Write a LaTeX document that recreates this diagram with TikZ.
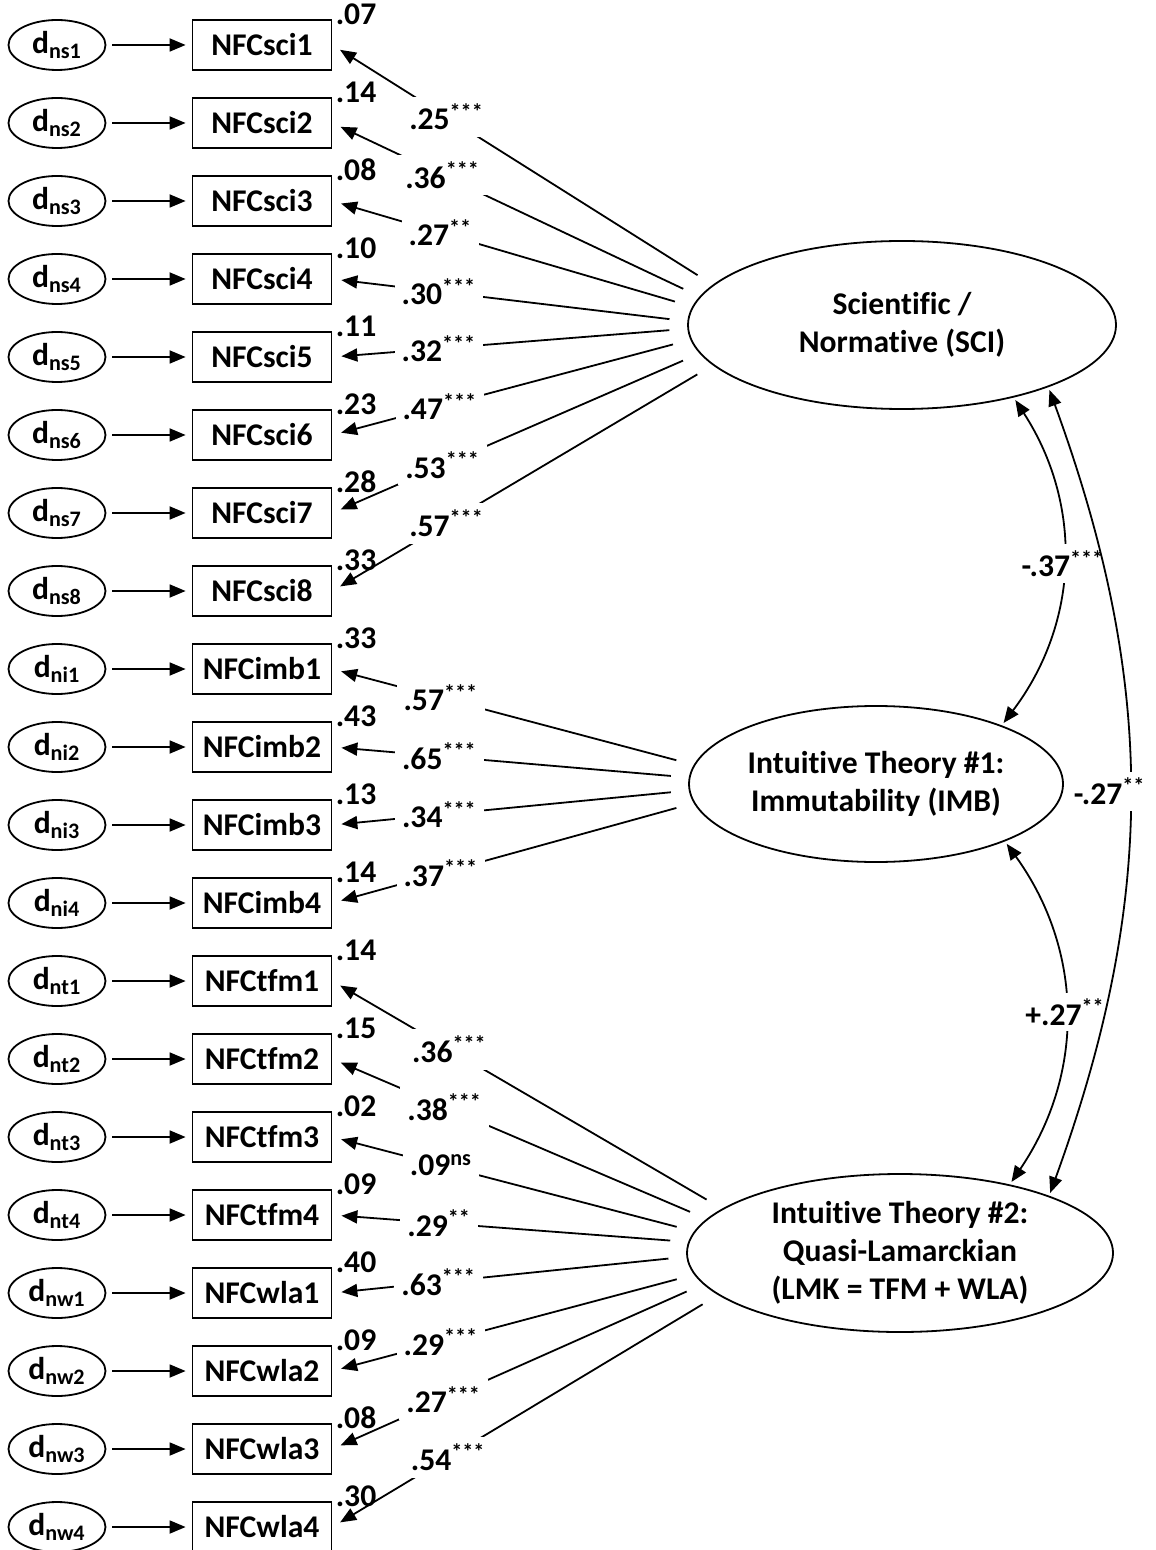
\documentclass[tikz,border=0pt]{standalone}
\usepackage{fontspec}
\setmainfont{Carlito}[RawFeature=-liga]
\usetikzlibrary{shapes.geometric,arrows.meta}

\tikzset{
  every node/.style={font=\bfseries\fontsize{15.8}{19}\selectfont},
  dterm/.style={ellipse, draw, line width=0.9pt, minimum width=48.5pt, minimum height=25pt, inner sep=0pt},
  obs/.style={rectangle, draw, line width=0.9pt, minimum width=69.5pt, minimum height=25pt, inner sep=0pt},
  latent/.style={ellipse, draw, line width=0.9pt, align=center, inner sep=0pt},
  rsq/.style={anchor=base west, inner sep=0pt, xshift=1.5pt, yshift=-2.5pt},
  arr/.style={-{Triangle[length=8pt,width=6.5pt]}, line width=0.9pt, shorten <=3pt, shorten >=3pt},
  load/.style={-{Triangle[length=8pt,width=6.5pt]}, line width=0.9pt, shorten <=9pt, shorten >=4.5pt},
  coef/.style={pos=0.7, fill=white, inner sep=3.5pt},
  cov/.style={{Triangle[length=8pt,width=6.5pt]}-{Triangle[length=8pt,width=6.5pt]}, line width=0.9pt, shorten <=1.5pt, shorten >=1.5pt},
  covlab/.style={midway, fill=white, inner sep=3pt},
}

\begin{document}
\begin{tikzpicture}[x=0.5pt, y=0.5pt]
  \useasboundingbox (0,0) rectangle (1155,-1550);

  % latent factors
  \node[latent, minimum width=214pt, minimum height=84pt] (sci) at (902,-325) {Scientific /\\Normative (SCI)};
  \node[latent, minimum width=187pt, minimum height=78pt] (imb) at (876,-784) {Intuitive Theory \#1:\\Immutability (IMB)};
  \node[latent, minimum width=213pt, minimum height=79pt] (lmk) at (900,-1253) {Intuitive Theory \#2:\\Quasi-Lamarckian\\(LMK = TFM + WLA)};

  % disturbances
  \node[dterm] (dns1) at (57,-45) {d\textsubscript{ns1}};
  \node[dterm] (dns2) at (57,-123) {d\textsubscript{ns2}};
  \node[dterm] (dns3) at (57,-201) {d\textsubscript{ns3}};
  \node[dterm] (dns4) at (57,-279) {d\textsubscript{ns4}};
  \node[dterm] (dns5) at (57,-357) {d\textsubscript{ns5}};
  \node[dterm] (dns6) at (57,-435) {d\textsubscript{ns6}};
  \node[dterm] (dns7) at (57,-513) {d\textsubscript{ns7}};
  \node[dterm] (dns8) at (57,-591) {d\textsubscript{ns8}};
  \node[dterm] (dni1) at (57,-669) {d\textsubscript{ni1}};
  \node[dterm] (dni2) at (57,-747) {d\textsubscript{ni2}};
  \node[dterm] (dni3) at (57,-825) {d\textsubscript{ni3}};
  \node[dterm] (dni4) at (57,-903) {d\textsubscript{ni4}};
  \node[dterm] (dnt1) at (57,-981) {d\textsubscript{nt1}};
  \node[dterm] (dnt2) at (57,-1059) {d\textsubscript{nt2}};
  \node[dterm] (dnt3) at (57,-1137) {d\textsubscript{nt3}};
  \node[dterm] (dnt4) at (57,-1215) {d\textsubscript{nt4}};
  \node[dterm] (dnw1) at (57,-1293) {d\textsubscript{nw1}};
  \node[dterm] (dnw2) at (57,-1371) {d\textsubscript{nw2}};
  \node[dterm] (dnw3) at (57,-1449) {d\textsubscript{nw3}};
  \node[dterm] (dnw4) at (57,-1527) {d\textsubscript{nw4}};

  % items
  \node[obs] (sci1) at (262,-45) {NFCsci1};
  \node[obs] (sci2) at (262,-123) {NFCsci2};
  \node[obs] (sci3) at (262,-201) {NFCsci3};
  \node[obs] (sci4) at (262,-279) {NFCsci4};
  \node[obs] (sci5) at (262,-357) {NFCsci5};
  \node[obs] (sci6) at (262,-435) {NFCsci6};
  \node[obs] (sci7) at (262,-513) {NFCsci7};
  \node[obs] (sci8) at (262,-591) {NFCsci8};
  \node[obs] (imb1) at (262,-669) {NFCimb1};
  \node[obs] (imb2) at (262,-747) {NFCimb2};
  \node[obs] (imb3) at (262,-825) {NFCimb3};
  \node[obs] (imb4) at (262,-903) {NFCimb4};
  \node[obs] (tfm1) at (262,-981) {NFCtfm1};
  \node[obs] (tfm2) at (262,-1059) {NFCtfm2};
  \node[obs] (tfm3) at (262,-1137) {NFCtfm3};
  \node[obs] (tfm4) at (262,-1215) {NFCtfm4};
  \node[obs] (wla1) at (262,-1293) {NFCwla1};
  \node[obs] (wla2) at (262,-1371) {NFCwla2};
  \node[obs] (wla3) at (262,-1449) {NFCwla3};
  \node[obs] (wla4) at (262,-1527) {NFCwla4};

  % explained variance
  \node[rsq] (rsci1) at (sci1.north east) {.07};
  \node[rsq] (rsci2) at (sci2.north east) {.14};
  \node[rsq] (rsci3) at (sci3.north east) {.08};
  \node[rsq] (rsci4) at (sci4.north east) {.10};
  \node[rsq] (rsci5) at (sci5.north east) {.11};
  \node[rsq] (rsci6) at (sci6.north east) {.23};
  \node[rsq] (rsci7) at (sci7.north east) {.28};
  \node[rsq] (rsci8) at (sci8.north east) {.33};
  \node[rsq] (rimb1) at (imb1.north east) {.33};
  \node[rsq] (rimb2) at (imb2.north east) {.43};
  \node[rsq] (rimb3) at (imb3.north east) {.13};
  \node[rsq] (rimb4) at (imb4.north east) {.14};
  \node[rsq] (rtfm1) at (tfm1.north east) {.14};
  \node[rsq] (rtfm2) at (tfm2.north east) {.15};
  \node[rsq] (rtfm3) at (tfm3.north east) {.02};
  \node[rsq] (rtfm4) at (tfm4.north east) {.09};
  \node[rsq] (rwla1) at (wla1.north east) {.40};
  \node[rsq] (rwla2) at (wla2.north east) {.09};
  \node[rsq] (rwla3) at (wla3.north east) {.08};
  \node[rsq] (rwla4) at (wla4.north east) {.30};

  % disturbance paths
  \draw[arr] (dns1) -- (sci1);
  \draw[arr] (dns2) -- (sci2);
  \draw[arr] (dns3) -- (sci3);
  \draw[arr] (dns4) -- (sci4);
  \draw[arr] (dns5) -- (sci5);
  \draw[arr] (dns6) -- (sci6);
  \draw[arr] (dns7) -- (sci7);
  \draw[arr] (dns8) -- (sci8);
  \draw[arr] (dni1) -- (imb1);
  \draw[arr] (dni2) -- (imb2);
  \draw[arr] (dni3) -- (imb3);
  \draw[arr] (dni4) -- (imb4);
  \draw[arr] (dnt1) -- (tfm1);
  \draw[arr] (dnt2) -- (tfm2);
  \draw[arr] (dnt3) -- (tfm3);
  \draw[arr] (dnt4) -- (tfm4);
  \draw[arr] (dnw1) -- (wla1);
  \draw[arr] (dnw2) -- (wla2);
  \draw[arr] (dnw3) -- (wla3);
  \draw[arr] (dnw4) -- (wla4);

  % loadings
  \draw[load] (sci.168) -- node[coef] {.25\textsuperscript{***}} (sci1.east);
  \draw[load] (sci.172) -- node[coef] {.36\textsuperscript{***}} (sci2.east);
  \draw[load] (sci.175.5) -- node[coef] {.27\textsuperscript{**}} (sci3.east);
  \draw[load] (sci.179) -- node[coef] {.30\textsuperscript{***}} (sci4.east);
  \draw[load] (sci.181) -- node[coef] {.32\textsuperscript{***}} (sci5.east);
  \draw[load] (sci.184.5) -- node[coef] {.47\textsuperscript{***}} (sci6.east);
  \draw[load] (sci.188) -- node[coef] {.53\textsuperscript{***}} (sci7.east);
  \draw[load] (sci.192) -- node[coef] {.57\textsuperscript{***}} (sci8.east);

  \draw[load] (imb.174) -- node[coef] {.57\textsuperscript{***}} (imb1.east);
  \draw[load] (imb.178) -- node[coef] {.65\textsuperscript{***}} (imb2.east);
  \draw[load] (imb.182) -- node[coef] {.34\textsuperscript{***}} (imb3.east);
  \draw[load] (imb.186) -- node[coef] {.37\textsuperscript{***}} (imb4.east);

  \draw[load] (lmk.166.5) -- node[coef] {.36\textsuperscript{***}} (tfm1.east);
  \draw[load] (lmk.170) -- node[coef] {.38\textsuperscript{***}} (tfm2.east);
  \draw[load] (lmk.174) -- node[coef] {.09\textsuperscript{ns}} (tfm3.east);
  \draw[load] (lmk.177.5) -- node[coef] {.29\textsuperscript{**}} (tfm4.east);
  \draw[load] (lmk.181.5) -- node[coef] {.63\textsuperscript{***}} (wla1.east);
  \draw[load] (lmk.186) -- node[coef] {.29\textsuperscript{***}} (wla2.east);
  \draw[load] (lmk.189.5) -- node[coef] {.27\textsuperscript{***}} (wla3.east);
  \draw[load] (lmk.193) -- node[coef] {.54\textsuperscript{***}} (wla4.east);

  % factor covariances
  \draw[cov] (sci.-33) to[bend left=35] node[covlab] {-.37\textsuperscript{***}} (imb.25);
  \draw[cov] (imb.-24) to[bend left=35] node[covlab] {+.27\textsuperscript{**}} (lmk.32);
  \draw[cov] (sci.-23) to[bend left=20] node[covlab, xshift=-10pt] {-.27\textsuperscript{**}} (lmk.21.5);
\end{tikzpicture}
\end{document}
